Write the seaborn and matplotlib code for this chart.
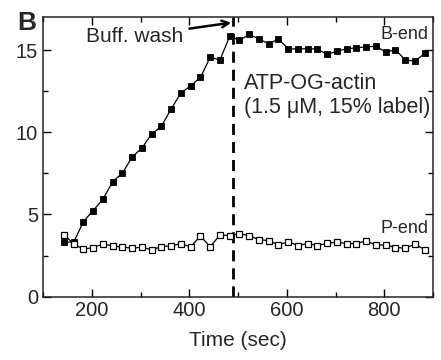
import numpy as np
import pandas as pd
import seaborn as sns
import matplotlib.pyplot as plt
from matplotlib.ticker import MultipleLocator

# time points (sec), one reading every ~20 s
time_sec = [143, 163, 183, 203, 223, 243, 263, 283, 303, 323,
            343, 363, 383, 403, 423, 443, 463, 483, 503, 523,
            543, 563, 583, 603, 623, 643, 663, 683, 703, 723,
            743, 763, 783, 803, 823, 843, 863, 883]

b_end = [3.32, 3.32, 4.57, 5.24, 5.94, 7.00, 7.52, 8.50, 9.05, 9.90,
         10.37, 11.43, 12.40, 12.83, 13.34, 14.57, 14.40, 15.85, 15.60, 15.96,
         15.67, 15.39, 15.67, 15.10, 15.06, 15.10, 15.06, 14.74, 14.94, 15.08,
         15.14, 15.20, 15.24, 14.88, 15.02, 14.41, 14.33, 14.80]

p_end = [3.78, 3.20, 2.89, 2.99, 3.20, 3.09, 3.01, 2.95, 3.01, 2.85,
         3.05, 3.09, 3.22, 3.03, 3.69, 3.03, 3.76, 3.71, 3.83, 3.71,
         3.47, 3.41, 3.15, 3.34, 3.11, 3.23, 3.11, 3.25, 3.32, 3.23,
         3.23, 3.40, 3.13, 3.15, 2.99, 2.95, 3.20, 2.85]

wash_time = 490

df = pd.DataFrame({'time': time_sec, 'B-end': b_end, 'P-end': p_end})

sns.set_style('ticks')
plt.rcParams['font.family'] = ['Liberation Sans', 'DejaVu Sans']

fig = plt.figure(figsize=(4.41, 3.6), dpi=100)
ax = fig.add_axes([0.0975, 0.176, 0.8844, 0.776])

sns.lineplot(data=df, x='time', y='B-end', ax=ax, color='black', lw=0.9,
             marker='s', markersize=4, markerfacecolor='black',
             markeredgecolor='black', markeredgewidth=0.6)
sns.lineplot(data=df, x='time', y='P-end', ax=ax, color='black', lw=0.9,
             marker='s', markersize=4.2, markerfacecolor='white',
             markeredgecolor='black', markeredgewidth=0.9)

ax.axvline(wash_time, color='black', lw=2.0, ls=(0, (4, 2.5)), zorder=1)

ax.set_xlim(100, 900)
ax.set_ylim(0, 17)
ax.xaxis.set_major_locator(MultipleLocator(200))
ax.xaxis.set_minor_locator(MultipleLocator(100))
ax.yaxis.set_major_locator(MultipleLocator(5))
ax.yaxis.set_minor_locator(MultipleLocator(2.5))
ax.tick_params(which='both', direction='in', top=True, right=True,
               labelsize=14.5, width=1.0, color='black')
ax.tick_params(axis='x', which='major', length=6, pad=3)
ax.tick_params(axis='y', which='major', length=6, pad=3.5)
ax.tick_params(which='minor', length=3.5)
for s in ax.spines.values():
    s.set_linewidth(1.1)

ax.set_xlabel('Time (sec)', fontsize=15, labelpad=8)
ax.set_ylabel('')

ax.annotate('Buff. wash', xy=(486, 16.67), xytext=(388, 15.84),
            fontsize=15, ha='right', va='center',
            arrowprops=dict(arrowstyle='->', lw=1.8, color='black',
                            shrinkA=2, shrinkB=0, mutation_scale=12))
ax.text(891, 15.93, 'B-end', fontsize=13, ha='right', va='center')
ax.text(891, 4.13, 'P-end', fontsize=13, ha='right', va='center')
ax.text(513, 13.0, 'ATP-OG-actin', fontsize=15.5, ha='left', va='center')
ax.text(513, 11.5, '(1.5 \u03bcM, 15% label)', fontsize=15.5, ha='left', va='center')

fig.text(0.0385, 1 - 30 / 360, 'B', fontsize=19, fontweight='bold',
         ha='left', va='baseline')

fig.savefig('out.png', dpi=100)
